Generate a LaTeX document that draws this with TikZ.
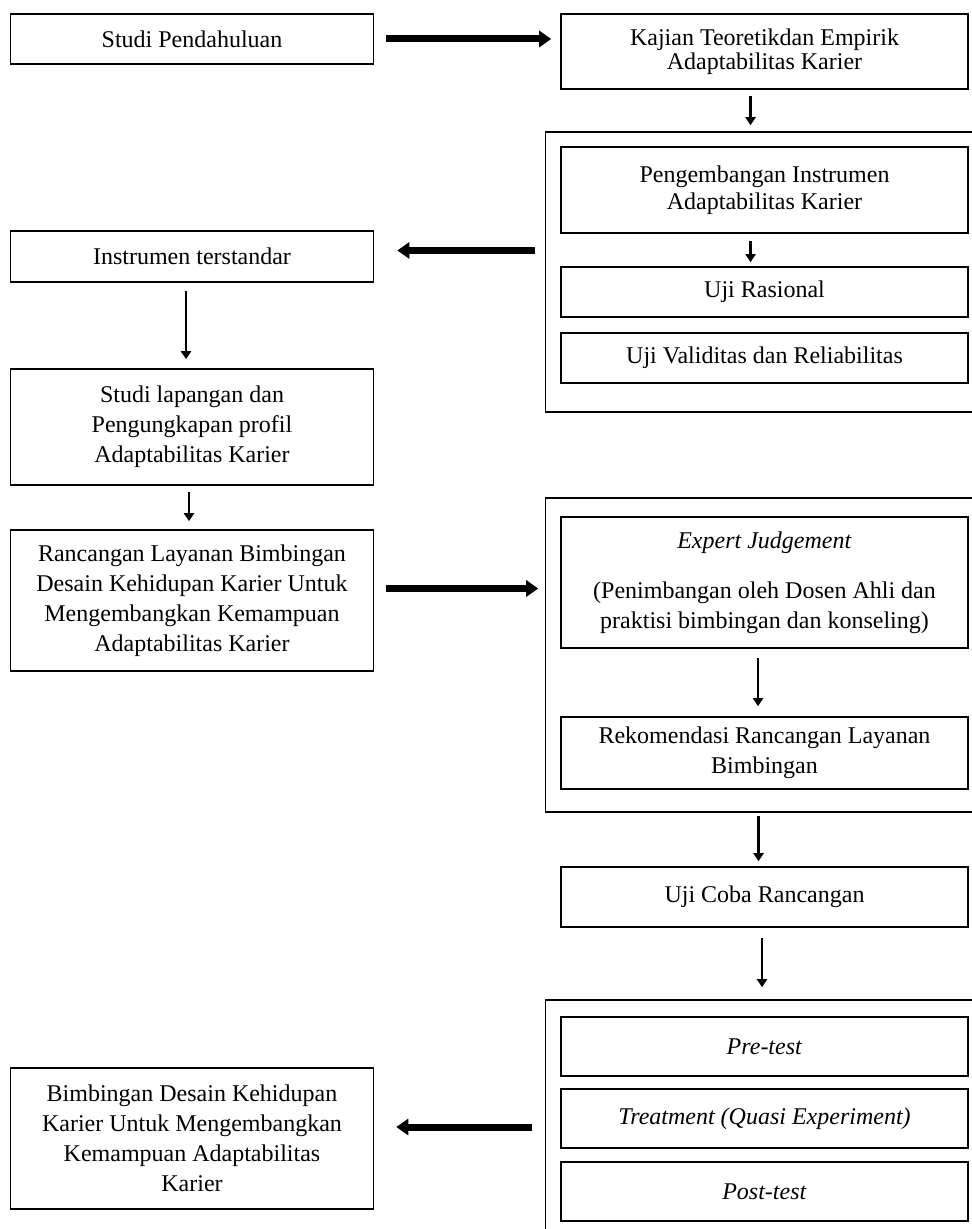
\documentclass[tikz,border=0pt]{standalone}
\usepackage{fontspec}
\setmainfont{Liberation Serif}
\usepackage{tikz}
\usetikzlibrary{arrows.meta,positioning}

\begin{document}
\begin{tikzpicture}[x=0.5pt,y=-0.5pt,>=Latex,
  lbox/.style={draw,line width=0.8pt,align=center,inner sep=2pt,minimum width=181.5pt,font=\fontsize{12}{15}\selectfont},
  rbox/.style={lbox,minimum width=203.5pt},
  grp/.style={draw,line width=0.8pt,minimum width=219pt},
  fat/.style={line width=3.5pt,-{Triangle[length=6pt,width=8pt]}},
  thin/.style={line width=1.3pt,-{Triangle[length=4pt,width=5pt]}}]
\useasboundingbox (0,0) rectangle (972,1229);
\clip (0,0) rectangle (972,1229);
% left column
\node[lbox,minimum height=25pt] (studi) at (192,39) {Studi Pendahuluan};
\node[lbox,minimum height=25.5pt] (instr) at (192,256.5) {Instrumen terstandar};
\node[lbox,minimum height=58pt] (lapangan) at (192,427) {Studi lapangan dan\\Pengungkapan profil\\Adaptabilitas Karier};
\node[lbox,minimum height=70.5pt] (rancang) at (192,600.5) {Rancangan Layanan Bimbingan\\Desain Kehidupan Karier Untuk\\Mengembangkan Kemampuan\\Adaptabilitas Karier};
\node[lbox,minimum height=70.5pt] (bimbing) at (192,1138.5) {Bimbingan Desain Kehidupan\\Karier Untuk Mengembangkan\\Kemampuan Adaptabilitas\\Karier};
% right column, groups run past the right edge
\node[grp,minimum height=140pt] (grp1) at (764.5,272) {};
\node[grp,minimum height=157pt] (grp2) at (764.5,655) {};
\node[grp,minimum height=125pt] (grp3) at (764.5,1125) {};
\node[rbox,minimum height=37.5pt] (kajian) at (764.5,51.5) {Kajian Teoretikdan Empirik\\[-3pt]Adaptabilitas Karier};
\node[rbox,minimum height=43pt] (kembang) at (764.5,190) {Pengembangan Instrumen\\[-1.5pt]Adaptabilitas Karier};
\node[rbox,minimum height=25pt] (rasional) at (764.5,292) {Uji Rasional};
\node[rbox,minimum height=25pt] (valid) at (764.5,358) {Uji Validitas dan Reliabilitas};
\node[rbox,minimum height=65.5pt] (expert) at (764.5,582.5) {\textit{Expert Judgement}\\[10pt](Penimbangan oleh Dosen Ahli dan\\praktisi bimbingan dan konseling)};
\node[rbox,minimum height=36pt] (rekom) at (764.5,753) {Rekomendasi Rancangan Layanan\\Bimbingan};
\node[rbox,minimum height=30pt] (ujicoba) at (764.5,897) {Uji Coba Rancangan};
\node[rbox,minimum height=29.5pt] (pre) at (764.5,1046.5) {\textit{Pre-test}};
\node[rbox,minimum height=29.5pt] (treat) at (764.5,1118.5) {\textit{Treatment (Quasi Experiment)}};
\node[rbox,minimum height=29.5pt] (post) at (764.5,1191.5) {\textit{Post-test}};
% arrow ends off the box centres
\coordinate (a1) at ([yshift=3pt]instr.east);
\coordinate (a2) at ([yshift=6pt]rancang.east);
\coordinate (a3) at ([yshift=5.75pt]bimbing.east);
% horizontal arrows
\draw[fat,shorten <=6pt,shorten >=4.5pt] (studi) -- (studi -| kajian.west);
\draw[fat,shorten <=4.75pt,shorten >=11.5pt] (grp1.west |- a1) -- (a1);
\draw[fat,shorten <=6pt,shorten >=3.25pt] (a2) -- (a2 -| grp2.west);
\draw[fat,shorten <=6.25pt,shorten >=11pt] (grp3.west |- a3) -- (a3);
% vertical arrows
\draw[thin,shorten <=3pt,shorten >=3pt] ([xshift=-7pt]kajian.south) -- ([xshift=-7pt]grp1.north);
\draw[thin,shorten <=3.5pt,shorten >=2pt] ([xshift=-7pt]kembang.south) -- ([xshift=-7pt]rasional.north);
\draw[thin,shorten <=4pt,shorten >=4.5pt] ([xshift=-3pt]instr.south) -- ([xshift=-3pt]lapangan.north);
\draw[thin,shorten <=3pt,shorten >=4pt] ([xshift=-1.5pt]lapangan.south) -- ([xshift=-1.5pt]rancang.north);
\draw[thin,shorten <=4.5pt,shorten >=5pt] ([xshift=-3.25pt]expert.south) -- ([xshift=-3.25pt]rekom.north);
\draw[thin,shorten <=1.5pt,shorten >=2.5pt] ([xshift=-3pt]grp2.south) -- ([xshift=-3pt]ujicoba.north);
\draw[thin,shorten <=5pt,shorten >=6pt] ([xshift=-1.25pt]ujicoba.south) -- ([xshift=-1.25pt]grp3.north);
\end{tikzpicture}
\end{document}
